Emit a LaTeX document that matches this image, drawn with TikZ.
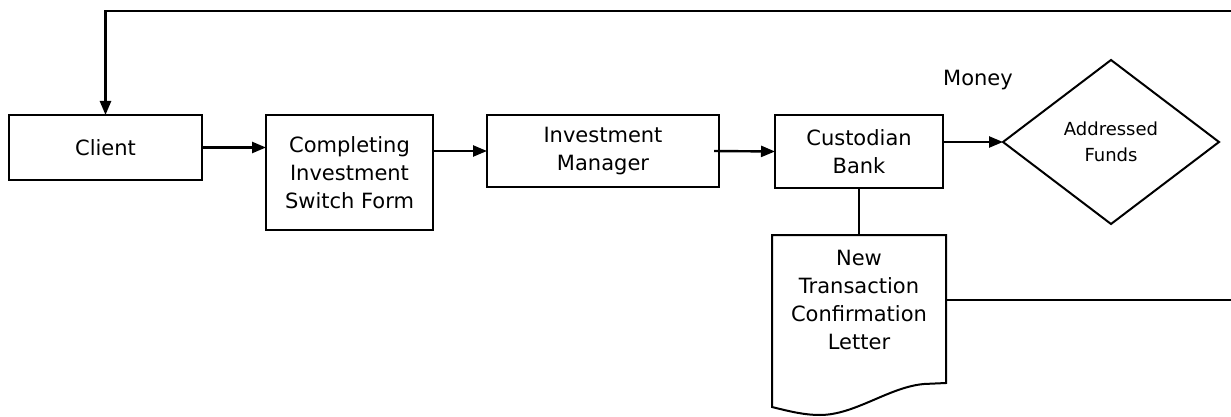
\documentclass[tikz,border=0pt]{standalone}
\usepackage{fontspec}
\setmainfont{DejaVu Sans}
\usetikzlibrary{arrows.meta,positioning,shapes.geometric}

\begin{document}
\begin{tikzpicture}[>={Triangle[length=14pt,width=11pt]}, x=1pt, y=-1pt,
    box/.style={draw, line width=2pt, align=center, inner sep=0pt, outer sep=0pt, font=\fontsize{21}{28}\selectfont},
    decision/.style={diamond, draw, line width=2pt, align=center, inner sep=0pt, outer sep=0pt,
                     minimum width=216pt, minimum height=164pt, font=\fontsize{18}{26}\selectfont},
    flow/.style={line width=2.4pt}]

    \useasboundingbox (0,0) rectangle (1231,417);

    \node[box, minimum width=193pt, minimum height=65pt, anchor=north west]  (client)  at (9,115)  {Client};
    \node[box, minimum width=167pt, minimum height=115pt, right=64pt of client.north east, anchor=north west] (form)    {Completing\\Investment\\Switch Form};
    \node[box, minimum width=232pt, minimum height=72pt, right=54pt of form.north east, anchor=north west]    (manager) {Investment\\Manager};
    \node[box, minimum width=168pt, minimum height=73pt, right=56pt of manager.north east, anchor=north west] (bank)    {Custodian\\Bank};
    \node[decision]                                                           (funds)   at (1111,142) {Addressed\\Funds};
    \node[box, draw=none, minimum width=174pt, minimum height=130pt, below=47pt of bank.south, anchor=north] (letter) {New\\Transaction\\Confirmation\\Letter};
    \node[font=\fontsize{21}{28}\selectfont]                                 (money)   at (978,80)  {Money};

    % document outline with wavy bottom
    \draw[line width=2pt] (letter.north west) -- (letter.north east) -- ++(0,148) -- ++(-22,1)
        .. controls +(-35,3) and +(35,0) .. ++(-104,31)
        .. controls +(-15,0) and +(20,5) .. ++(-48,-8) -- cycle;

    \coordinate (loop) at (1245,11);

    \draw[flow, ->] (client.east) -- (client.east -| form.west);
    \draw[flow, ->] (form.east |- manager.west) -- (manager.west);
    \draw[flow, ->] ([xshift=-5pt]manager.east) -- (bank.west);
    \draw[flow, ->] (bank.east |- funds.west) -- (funds.west);
    \draw[flow]     (bank.south) -- (letter.north);
    \draw[flow, ->] (letter.east) -| (loop) -| (client.north);

\end{tikzpicture}
\end{document}
